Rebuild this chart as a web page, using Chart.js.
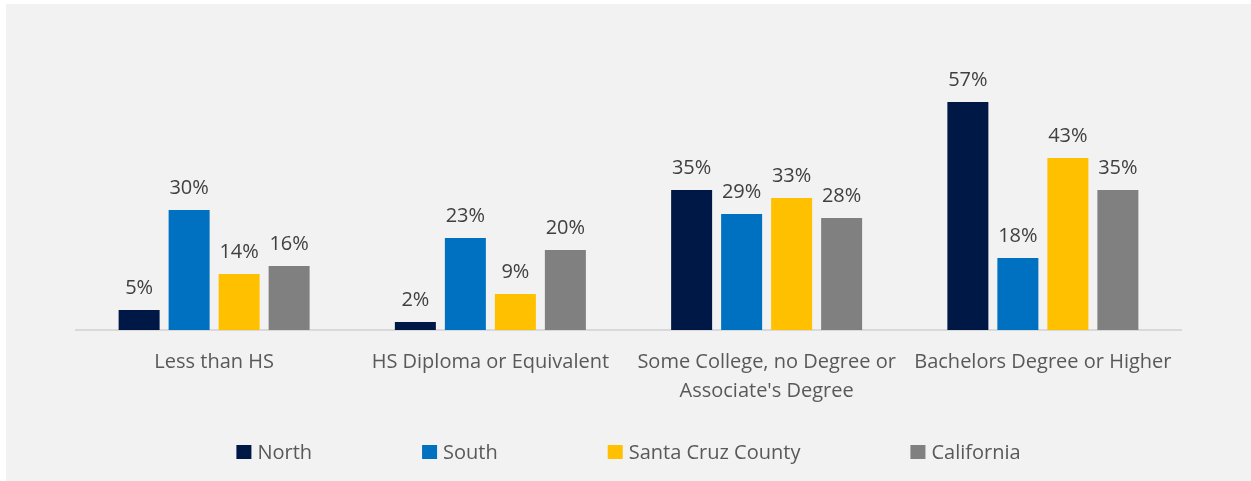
<!DOCTYPE html>
<html>
<head>
<meta charset="utf-8">
<script src="https://cdn.jsdelivr.net/npm/chart.js@4.4.1/dist/chart.umd.min.js"></script>
<style>
  html, body { margin: 0; padding: 0; background: #ffffff; }
  #wrap { width: 1251px; height: 481px; position: relative; }
  canvas { display: block; }
</style>
</head>
<body>
<div id="wrap"><canvas id="c" width="1251" height="481"></canvas></div>
<script>
const categories = [
  'Less than HS',
  'HS Diploma or Equivalent',
  ['Some College, no Degree or', "Associate's Degree"],
  'Bachelors Degree or Higher'
];
const seriesNames = ['North', 'South', 'Santa Cruz County', 'California'];
const north = [5, 2, 35, 57];
const south = [30, 23, 29, 18];
const santaCruzCounty = [14, 9, 33, 43];
const california = [16, 20, 28, 35];
const seriesColors = ['#001845', '#0070C0', '#FFC000', '#808080'];
const yMax = 60;

const FONT = '"Open Sans", "Noto Sans", sans-serif';

const backgroundPlugin = {
  id: 'bg',
  beforeDraw(chart) {
    const ctx = chart.ctx;
    ctx.save();
    ctx.fillStyle = '#ffffff';
    ctx.fillRect(0, 0, chart.width, chart.height);
    ctx.fillStyle = '#f2f2f2';
    ctx.fillRect(6, 4, chart.width - 6, chart.height - 4);
    ctx.restore();
  }
};

const valueLabelPlugin = {
  id: 'valueLabels',
  afterDatasetsDraw(chart) {
    const ctx = chart.ctx;
    ctx.save();
    ctx.font = '20px ' + FONT;
    ctx.fillStyle = '#404040';
    ctx.textAlign = 'center';
    ctx.textBaseline = 'alphabetic';
    chart.data.datasets.forEach((ds, di) => {
      const meta = chart.getDatasetMeta(di);
      meta.data.forEach((bar, i) => {
        ctx.fillText(ds.data[i] + '%', bar.x, bar.y - 16);
      });
    });
    ctx.restore();
  }
};

const legendPlugin = {
  id: 'customLegend',
  afterDraw(chart) {
    const ctx = chart.ctx;
    const boxW = 15, boxH = 14, boxGap = 6, itemGap = 110;
    ctx.save();
    ctx.font = '20px ' + FONT;
    const items = chart.data.datasets.map(ds => ({ text: ds.label, color: ds.backgroundColor }));
    const widths = items.map(it => boxW + boxGap + ctx.measureText(it.text).width);
    const total = widths.reduce((a, b) => a + b, 0) + itemGap * (items.length - 1);
    let x = (chart.chartArea.left + chart.chartArea.right) / 2 - total / 2;
    const yc = chart.height - 29;
    ctx.textBaseline = 'middle';
    ctx.textAlign = 'left';
    items.forEach((it, i) => {
      ctx.fillStyle = it.color;
      ctx.fillRect(x, yc - boxH / 2, boxW, boxH);
      ctx.fillStyle = '#595959';
      ctx.fillText(it.text, x + boxW + boxGap, yc + 1);
      x += widths[i] + itemGap;
    });
    ctx.restore();
  }
};

const seriesData = [north, south, santaCruzCounty, california];

new Chart(document.getElementById('c'), {
  type: 'bar',
  data: {
    labels: categories,
    datasets: seriesNames.map((name, i) => ({
      label: name,
      data: seriesData[i],
      backgroundColor: seriesColors[i],
      borderWidth: 0,
      categoryPercentage: 0.724,
      barPercentage: 0.82
    }))
  },
  options: {
    responsive: false,
    animation: false,
    devicePixelRatio: 1,
    layout: { padding: { top: 90, left: 76, right: 70, bottom: 57 } },
    plugins: {
      legend: { display: false },
      tooltip: { enabled: false }
    },
    scales: {
      x: {
        grid: { display: false, drawTicks: false },
        border: { display: true, color: '#d9d9d9', width: 2 },
        ticks: {
          color: '#595959',
          font: { family: FONT, size: 20, lineHeight: 1.45 },
          padding: 18,
          maxRotation: 0,
          minRotation: 0,
          autoSkip: false
        }
      },
      y: {
        display: false,
        min: 0,
        max: yMax,
        beginAtZero: true
      }
    }
  },
  plugins: [backgroundPlugin, valueLabelPlugin, legendPlugin]
});
</script>
</body>
</html>
